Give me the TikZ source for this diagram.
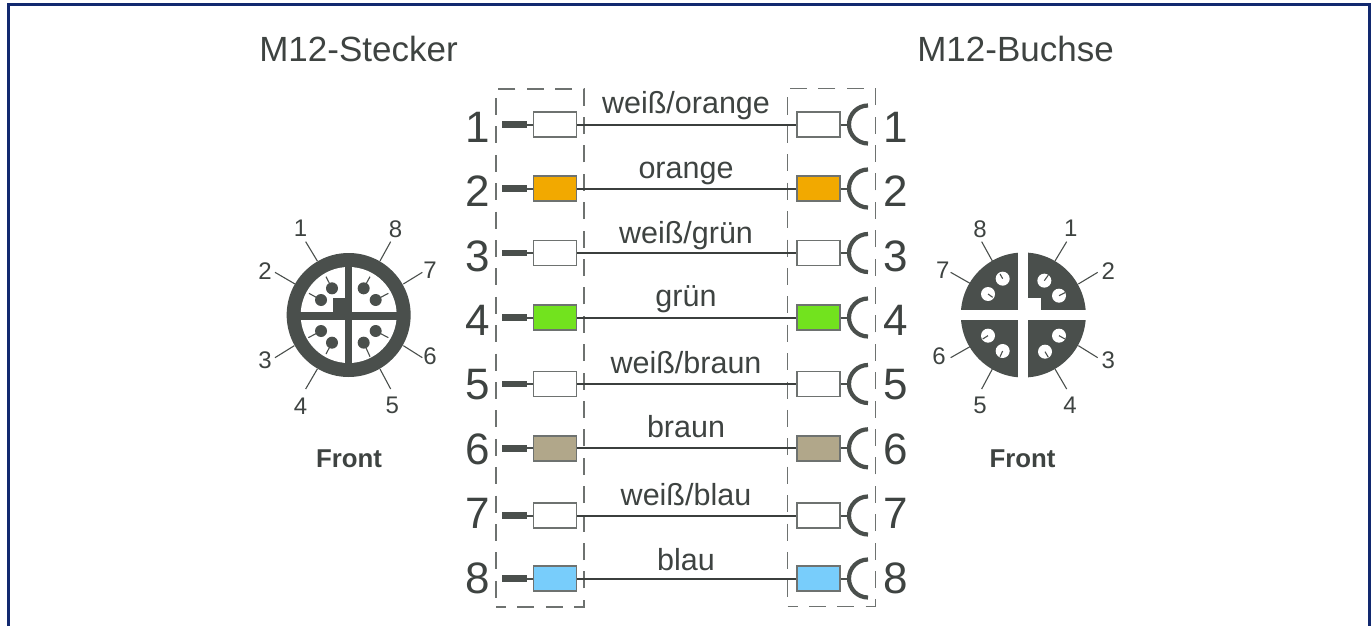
\documentclass[tikz,border=0pt]{standalone}
\usepackage{fontspec}
\usetikzlibrary{calc}
\setmainfont{Liberation Sans}
\definecolor{ink}{HTML}{4A4F4C}
\definecolor{txt}{HTML}{3E4341}
\definecolor{navy}{HTML}{12296F}
\definecolor{cor}{HTML}{F2A900}
\definecolor{cgr}{HTML}{72E31E}
\definecolor{cbr}{HTML}{B1A78A}
\definecolor{cbl}{HTML}{78CDFB}
\definecolor{frame}{HTML}{6E7270}
\newcommand{\fs}[1]{\fontsize{#1}{#1}\selectfont}
\tikzset{
  title/.style={anchor=base,text=txt,font=\fs{35},inner sep=0pt},
  front/.style={anchor=base,text=txt,font=\fs{25.8}\bfseries,inner sep=0pt},
  wirelabel/.style={anchor=base,text=txt,font=\fs{30.5},inner sep=0pt},
  bignum/.style={anchor=base,text=txt,font=\fs{44},inner sep=0pt},
  smallnum/.style={text=txt,font=\fs{24},inner sep=0pt},
  colbox/.style={draw=frame,line width=1.6pt,minimum width=43pt,minimum height=25pt,inner sep=0pt},
  dashbox/.style={draw=frame,line width=1.4pt,dash pattern=on 17pt off 11.4pt,dash phase=7pt,minimum width=88pt,minimum height=518pt,inner sep=0pt},
  wire/.style={draw=ink!80!black,line width=2pt},
  stub/.style={draw=ink,line width=2pt},
  pinbar/.style={draw=ink,line width=6.5pt},
  cup/.style={draw=ink,line width=4.2pt},
  leader/.style={draw=ink,line width=1.1pt},
}
\begin{document}
\begin{tikzpicture}[x=1pt,y=-1pt]
\useasboundingbox (0,0) rectangle (1372,626);
% outer frame
\draw[navy,line width=3pt] (8.5,626) -- (8.5,4.5) -- (1369.5,4.5) -- (1369.5,626);
% titles
\node[title] (tl) at (358.5,62) {M12-Stecker};
\node[title] (tr) at (1015.5,62) {M12-Buchse};
\node[front] (fl) at (349,467) {Front};
\node[front] (fr) at (1022.5,467) {Front};
% dashed housings
\node[dashbox] (dl) at (540,348) {};
\node[dashbox] (dr) at (831.5,347.5) {};
% rows
\foreach \i/\y/\col/\lab/\by/\nb in {
 1/124.5/white/weiß\slash orange/113/142,
 2/188.5/cor/orange/178/206.5,
 3/253/white/weiß\slash grün/243/271,
 4/317.5/cgr/grün/306/335,
 5/384/white/weiß\slash braun/373/399.5,
 6/448.3/cbr/braun/437/464,
 7/515.5/white/weiß\slash blau/505/528.5,
 8/578.5/cbl/blau/570/593}{
  \node[colbox,fill=\col] (a\i) at (555,\y) {};
  \node[colbox,fill=\col] (b\i) at (818.5,\y) {};
  \coordinate (p\i) at (527,\y);
  \coordinate (q\i) at (502,\y);
  \coordinate (c\i) at (849,\y);
  \draw[wire] (a\i.east) -- (b\i.west);
  \draw[stub] (p\i) -- (a\i.west);
  \draw[pinbar] (q\i) -- (p\i);
  \draw[stub] (b\i.east) -- (c\i);
  \draw[cup] ($(c\i)+(19,-19)$) arc[start angle=90,end angle=270,radius=19pt];
  \node[wirelabel] (w\i) at (686,\by) {\lab};
  \node[bignum] (nl\i) at (478,\nb) {\i};
  \node[bignum] (nr\i) at (895.5,\nb) {\i};
}
% left connector (coordinates in 1/3 px, from the crop origin)
\begin{scope}[shift={(240pt,-200pt)},x=0.33333pt,y=-0.33333pt]
  \fill[ink] (326,345) circle[radius=62pt];
  \fill[white] (326,345) circle[radius=48pt];
  \fill[ink] (315,190) rectangle (337,500);
  \fill[ink] (170,335) rectangle (482,360);
  \fill[ink] (278,295) rectangle (326,345);
  \foreach \n/\px/\py/\ia/\ib/\oa/\ob/\la/\lb/\lx/\ly in {
    1/276/265/258/230/232/183/197/125/182/85,
    2/243/300/207/280/165/252/105/217/75/212,
    3/243/393/205/413/163/437/105/473/75/480,
    4/276/428/258/462/232/507/197/567/182/620,
    5/371/428/390/470/420/507/452/567/457/617,
    6/407/393/445/413/490/437/547/473/570/470,
    7/407/300/445/280/490/252/547/217/570/212,
    8/371/265/390/230/420/183/452/125/467/88}{
    \coordinate (lp\n) at (\px,\py);
    \coordinate (li\n) at (\ia,\ib);
    \coordinate (lo\n) at (\oa,\ob);
    \coordinate (le\n) at (\la,\lb);
    \draw[leader] (lp\n) -- (li\n);
    \fill[ink] (lp\n) circle[radius=6pt];
    \draw[leader] (lo\n) -- (le\n);
    \node[smallnum] (ln\n) at (\lx,\ly) {\n};
  }
\end{scope}
% right connector
\begin{scope}[shift={(920pt,-200pt)},x=0.33333pt,y=-0.33333pt]
  \fill[ink] (310,345) circle[radius=62.5pt];
  \fill[white] (295,150) rectangle (325,540);
  \fill[white] (115,330) rectangle (505,360);
  \fill[white] (325,293) rectangle (362,345);
  \foreach \n/\px/\py/\ia/\ib/\oa/\ob/\la/\lb/\lx/\ly in {
    1/373/242/385/225/405/183/440/125/452/85,
    2/417/287/435/278/475/252/533/217/565/212,
    3/417/407/435/417/475/437/533/473/565/480,
    4/375/455/385/472/405/507/440/567/450/617,
    5/248/453/240/470/217/507/185/567/180/617,
    6/204/407/188/417/150/440/92/473/57/468,
    7/204/282/218/292/150/250/92/217/68/212,
    8/248/236/240/222/217/183/185/125/180/88}{
    \coordinate (rp\n) at (\px,\py);
    \coordinate (ri\n) at (\ia,\ib);
    \coordinate (ro\n) at (\oa,\ob);
    \coordinate (re\n) at (\la,\lb);
    \fill[white] (rp\n) circle[radius=7pt];
    \draw[leader] (rp\n) -- (ri\n);
    \draw[leader] (ro\n) -- (re\n);
    \node[smallnum] (rn\n) at (\lx,\ly) {\n};
  }
\end{scope}
\end{tikzpicture}
\end{document}
